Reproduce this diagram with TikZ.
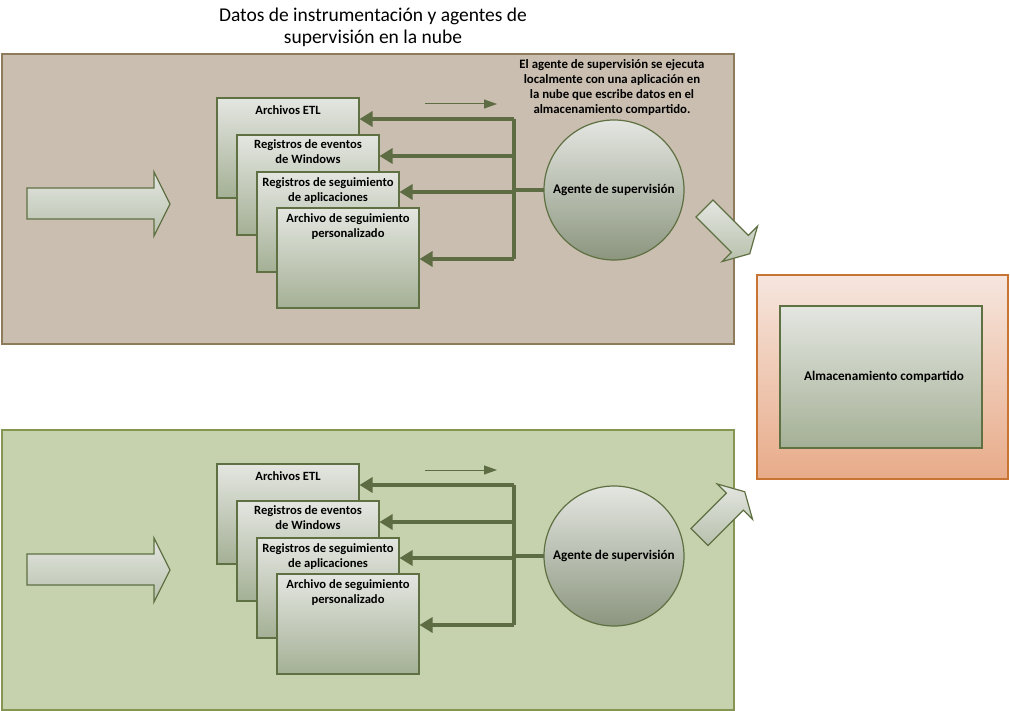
\documentclass[tikz,border=0pt]{standalone}
\usepackage{fontspec}
\setmainfont{Carlito}
\usetikzlibrary{arrows.meta, positioning}

\definecolor{brownfill}{HTML}{C9BEAF}
\definecolor{brownedge}{HTML}{8E7B5C}
\definecolor{greenfill}{HTML}{C5D2AD}
\definecolor{greenedge}{HTML}{859652}
\definecolor{olive}{HTML}{5F7042}
\definecolor{olivedark}{HTML}{5E6C44}
\definecolor{boxtop}{HTML}{E4E6E1}
\definecolor{boxbot}{HTML}{A4B095}
\definecolor{peachtop}{HTML}{F6E6DE}
\definecolor{peachbot}{HTML}{E8AB89}
\definecolor{peachedge}{HTML}{C87432}

\begin{document}
\begin{tikzpicture}[x=1pt,y=-1pt,
  topzone/.style={draw=brownedge, fill=brownfill, line width=1.5pt},
  botzone/.style={draw=greenedge, fill=greenfill, line width=1.5pt},
  docbox/.style={draw=olive, line width=1.2pt, top color=boxtop, bottom color=boxbot,
    minimum width=142pt, minimum height=100pt, inner sep=0pt, outer sep=0pt},
  doctext/.style={font=\bfseries\fontsize{12.6}{15}\selectfont, align=center, inner sep=0pt},
  agent/.style={circle, draw=olive, line width=1.2pt, top color=boxtop, bottom color=boxbot!85!black,
    minimum size=140pt, inner sep=0pt, outer sep=0pt, font=\bfseries\fontsize{13.2}{15}\selectfont},
  bus/.style={draw=olivedark, line width=3.8pt},
  feed/.style={bus, -{Triangle[length=13pt,width=15pt]}, shorten >=0.5pt},
  flow/.style={draw=olivedark, line width=1pt, -{Triangle[length=13pt,width=9pt]}},
  bigarrow/.style={draw=olive, line width=1.2pt, top color=boxtop, bottom color=boxbot!70!boxtop}]
\useasboundingbox (0,0) rectangle (1010,711);

% title
\node[font=\fontsize{19.5}{22}\selectfont, align=center] (title) at (373,27)
  {Datos de instrumentación y agentes de\\supervisión en la nube};

% upper zone
\begin{scope}
\draw[topzone] (2,54) rectangle (734,344);
\node[font=\bfseries\fontsize{12.8}{15}\selectfont, align=center] (a-note) at (612,88)
  {El agente de supervisión se ejecuta\\localmente con una aplicación en\\la nube que escribe datos en el\\almacenamiento compartido.};
\draw[bigarrow] (27,188) -- (154,188) -- (154,172) -- (170,204) -- (154,236) -- (154,219) -- (27,219) -- cycle;
\node[docbox] (a-d1) at (288,148) {};
\node[docbox] (a-d2) at (308,185) {};
\node[docbox] (a-d3) at (328,222) {};
\node[docbox] (a-d4) at (348,258) {};
\node[doctext, below=7pt of a-d1.north] {Archivos ETL};
\node[doctext, below=4pt of a-d2.north] {Registros de eventos\\de Windows};
\node[doctext, below=5pt of a-d3.north] {Registros de seguimiento\\de aplicaciones};
\node[doctext, below=5pt of a-d4.north] {Archivo de seguimiento\\personalizado};
\node[agent] (a-agent) at (614,190) {Agente de supervisión};
\coordinate (a-j1) at (514,119);
\coordinate (a-j2) at (514,156);
\coordinate (a-j3) at (514,190);
\coordinate (a-j4) at (514,259);
\draw[bus] (a-j1) -- (a-j4);
\draw[bus] (a-j3) -- (a-agent.west);
\draw[feed] (a-j1) -- (a-j1 -| a-d1.east);
\draw[feed] (a-j2) -- (a-j2 -| a-d2.east);
\draw[feed] (a-j3 |- 0,192) -- (a-d3.east |- 0,192);
\draw[feed] (a-j4) -- (a-j4 -| a-d4.east);
\coordinate (a-from) at (425,104);
\coordinate (a-to) at (497,104);
\draw[flow] (a-from) -- (a-to);
\draw[bigarrow, shift={(704.5,208.5)}, rotate=-45]
  (0,-12) -- (50,-12) -- (50,-25) -- (64,0) -- (50,25) -- (50,12) -- (0,12) -- cycle;
\end{scope}

% lower zone
\begin{scope}[shift={(0,366)}]
\draw[botzone] (2,64) rectangle (734,344);
\draw[bigarrow] (27,188) -- (154,188) -- (154,172) -- (170,204) -- (154,236) -- (154,219) -- (27,219) -- cycle;
\node[docbox] (b-d1) at (288,148) {};
\node[docbox] (b-d2) at (308,185) {};
\node[docbox] (b-d3) at (328,222) {};
\node[docbox] (b-d4) at (348,258) {};
\node[doctext, below=7pt of b-d1.north] {Archivos ETL};
\node[doctext, below=4pt of b-d2.north] {Registros de eventos\\de Windows};
\node[doctext, below=5pt of b-d3.north] {Registros de seguimiento\\de aplicaciones};
\node[doctext, below=5pt of b-d4.north] {Archivo de seguimiento\\personalizado};
\node[agent] (b-agent) at (614,190) {Agente de supervisión};
\coordinate (b-j1) at (514,119);
\coordinate (b-j2) at (514,156);
\coordinate (b-j3) at (514,190);
\coordinate (b-j4) at (514,259);
\draw[bus] (b-j1) -- (b-j4);
\draw[bus] (b-j3) -- (b-agent.west);
\draw[feed] (b-j1) -- (b-j1 -| b-d1.east);
\draw[feed] (b-j2) -- (b-j2 -| b-d2.east);
\draw[feed] (b-j3 |- 0,192) -- (b-d3.east |- 0,192);
\draw[feed] (b-j4) -- (b-j4 -| b-d4.east);
\coordinate (b-from) at (425,104);
\coordinate (b-to) at (497,104);
\draw[flow] (b-from) -- (b-to);
\draw[bigarrow, shift={(699.5,171)}, rotate=45]
  (0,-12) -- (50,-12) -- (50,-25) -- (64,0) -- (50,25) -- (50,12) -- (0,12) -- cycle;
\end{scope}

% shared storage
\node[draw=peachedge, line width=1.5pt, top color=peachtop, bottom color=peachbot,
  minimum width=251pt, minimum height=204pt, inner sep=0pt] (store) at (882.5,377) {};
\node[draw=olive, line width=1.2pt, top color=boxtop, bottom color=boxbot,
  minimum width=202pt, minimum height=142pt, font=\bfseries\fontsize{13.2}{15}\selectfont] (shared) at (881,377)
  {\hspace{6pt}Almacenamiento compartido};
\end{tikzpicture}
\end{document}
